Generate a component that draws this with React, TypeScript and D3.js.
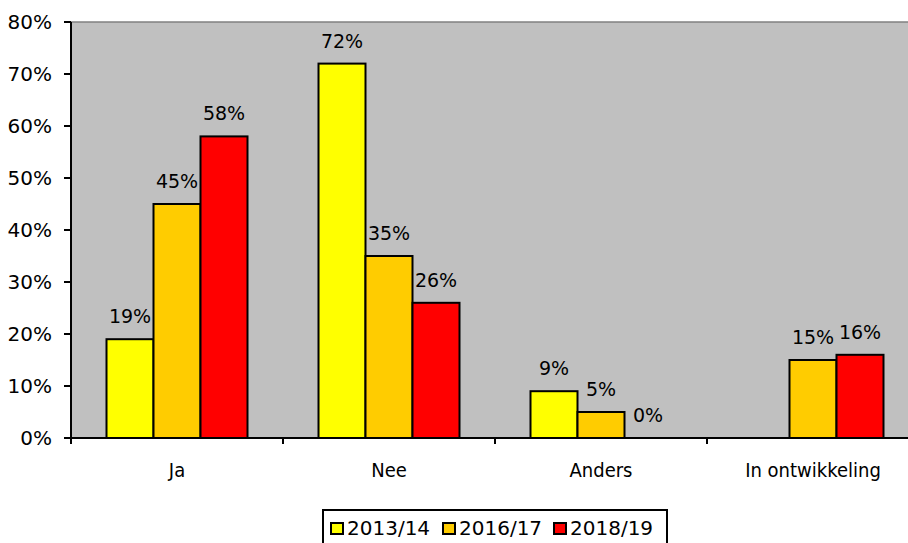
import React from 'react';
import * as d3 from 'd3';

const categories = ['Ja', 'Nee', 'Anders', 'In ontwikkeling'];
const seriesNames = ['2013/14', '2016/17', '2018/19'];
const values2013 = [19, 72, 9, null];
const values2016 = [45, 35, 5, 15];
const values2018 = [58, 26, 0, 16];
const seriesColors = ['#FFFF00', '#FFCC00', '#FF0000'];
const yTicks = [0, 10, 20, 30, 40, 50, 60, 70, 80];

const App: React.FC = () => {
  const W = 908;
  const H = 543;
  const left = 71;
  const right = 919;
  const top = 22;
  const bottom = 438;
  const font = '"DejaVu Sans", sans-serif';
  const condFont = '"DejaVu Sans Condensed", "DejaVu Sans", sans-serif';

  const series = [values2013, values2016, values2018];

  // categories cover the full plot width, the bar group is 141px inside each band
  const x = d3.scaleBand<string>().domain(categories).range([left, right]);
  const inner = d3.scaleBand<number>().domain([0, 1, 2]).range([0, 141]);
  const groupOffset = (x.bandwidth() - 141) / 2;
  const y = d3.scaleLinear().domain([0, 80]).range([bottom, top]);

  const legendX = [331, 443, 554];

  return (
    <svg width={W} height={H} style={{ position: 'absolute', left: 0, top: 0, background: '#fff' }}>
      <rect x={left} y={top} width={right - left} height={bottom - top} fill="#C0C0C0" />
      <line x1={left} x2={right} y1={top} y2={top} stroke="#808080" strokeWidth={1.5} />

      {/* bars + value labels */}
      {series.map((vals, si) =>
        vals.map((v, ci) => {
          if (v === null) return null;
          const bx = (x(categories[ci]) as number) + groupOffset + (inner(si) as number);
          const by = y(v);
          return (
            <g key={`${si}-${ci}`}>
              {v > 0 && (
                <rect x={bx} y={by} width={inner.bandwidth()} height={bottom - by}
                  fill={seriesColors[si]} stroke="#000" strokeWidth={2} />
              )}
              <text x={bx + inner.bandwidth() / 2} y={by - 16} textAnchor="middle"
                fontFamily={font} fontSize={19} fill="#000">{`${v}%`}</text>
            </g>
          );
        })
      )}

      {/* y axis */}
      <line x1={left} x2={left} y1={top} y2={bottom + 1} stroke="#000" strokeWidth={2} />
      {yTicks.map(t => (
        <g key={t}>
          <line x1={left - 7} x2={left} y1={y(t)} y2={y(t)} stroke="#000" strokeWidth={2} />
          <text x={52} y={y(t)} dy="0.36em" textAnchor="end" fontFamily={font} fontSize={20} fill="#000">{`${t}%`}</text>
        </g>
      ))}

      {/* x axis */}
      <line x1={left} x2={right} y1={bottom} y2={bottom} stroke="#000" strokeWidth={2} />
      {[...categories.map(c => x(c) as number), right].map((tx, i) => (
        <line key={i} x1={tx} x2={tx} y1={bottom} y2={bottom + 6} stroke="#000" strokeWidth={2} />
      ))}
      {categories.map(c => (
        <text key={c} x={(x(c) as number) + x.bandwidth() / 2} y={477} textAnchor="middle"
          fontFamily={condFont} fontStretch="condensed" fontSize={20} fill="#000">{c}</text>
      ))}

      {/* legend */}
      <rect x={323} y={510} width={344} height={45} fill="#fff" stroke="#000" strokeWidth={2} />
      {seriesNames.map((s, i) => (
        <g key={s}>
          <rect x={legendX[i]} y={523} width={12} height={11} fill={seriesColors[i]} stroke="#000" strokeWidth={2} />
          <text x={legendX[i] + 16} y={535} fontFamily={font} fontSize={20} fill="#000">{s}</text>
        </g>
      ))}
    </svg>
  );
};

export default App;
